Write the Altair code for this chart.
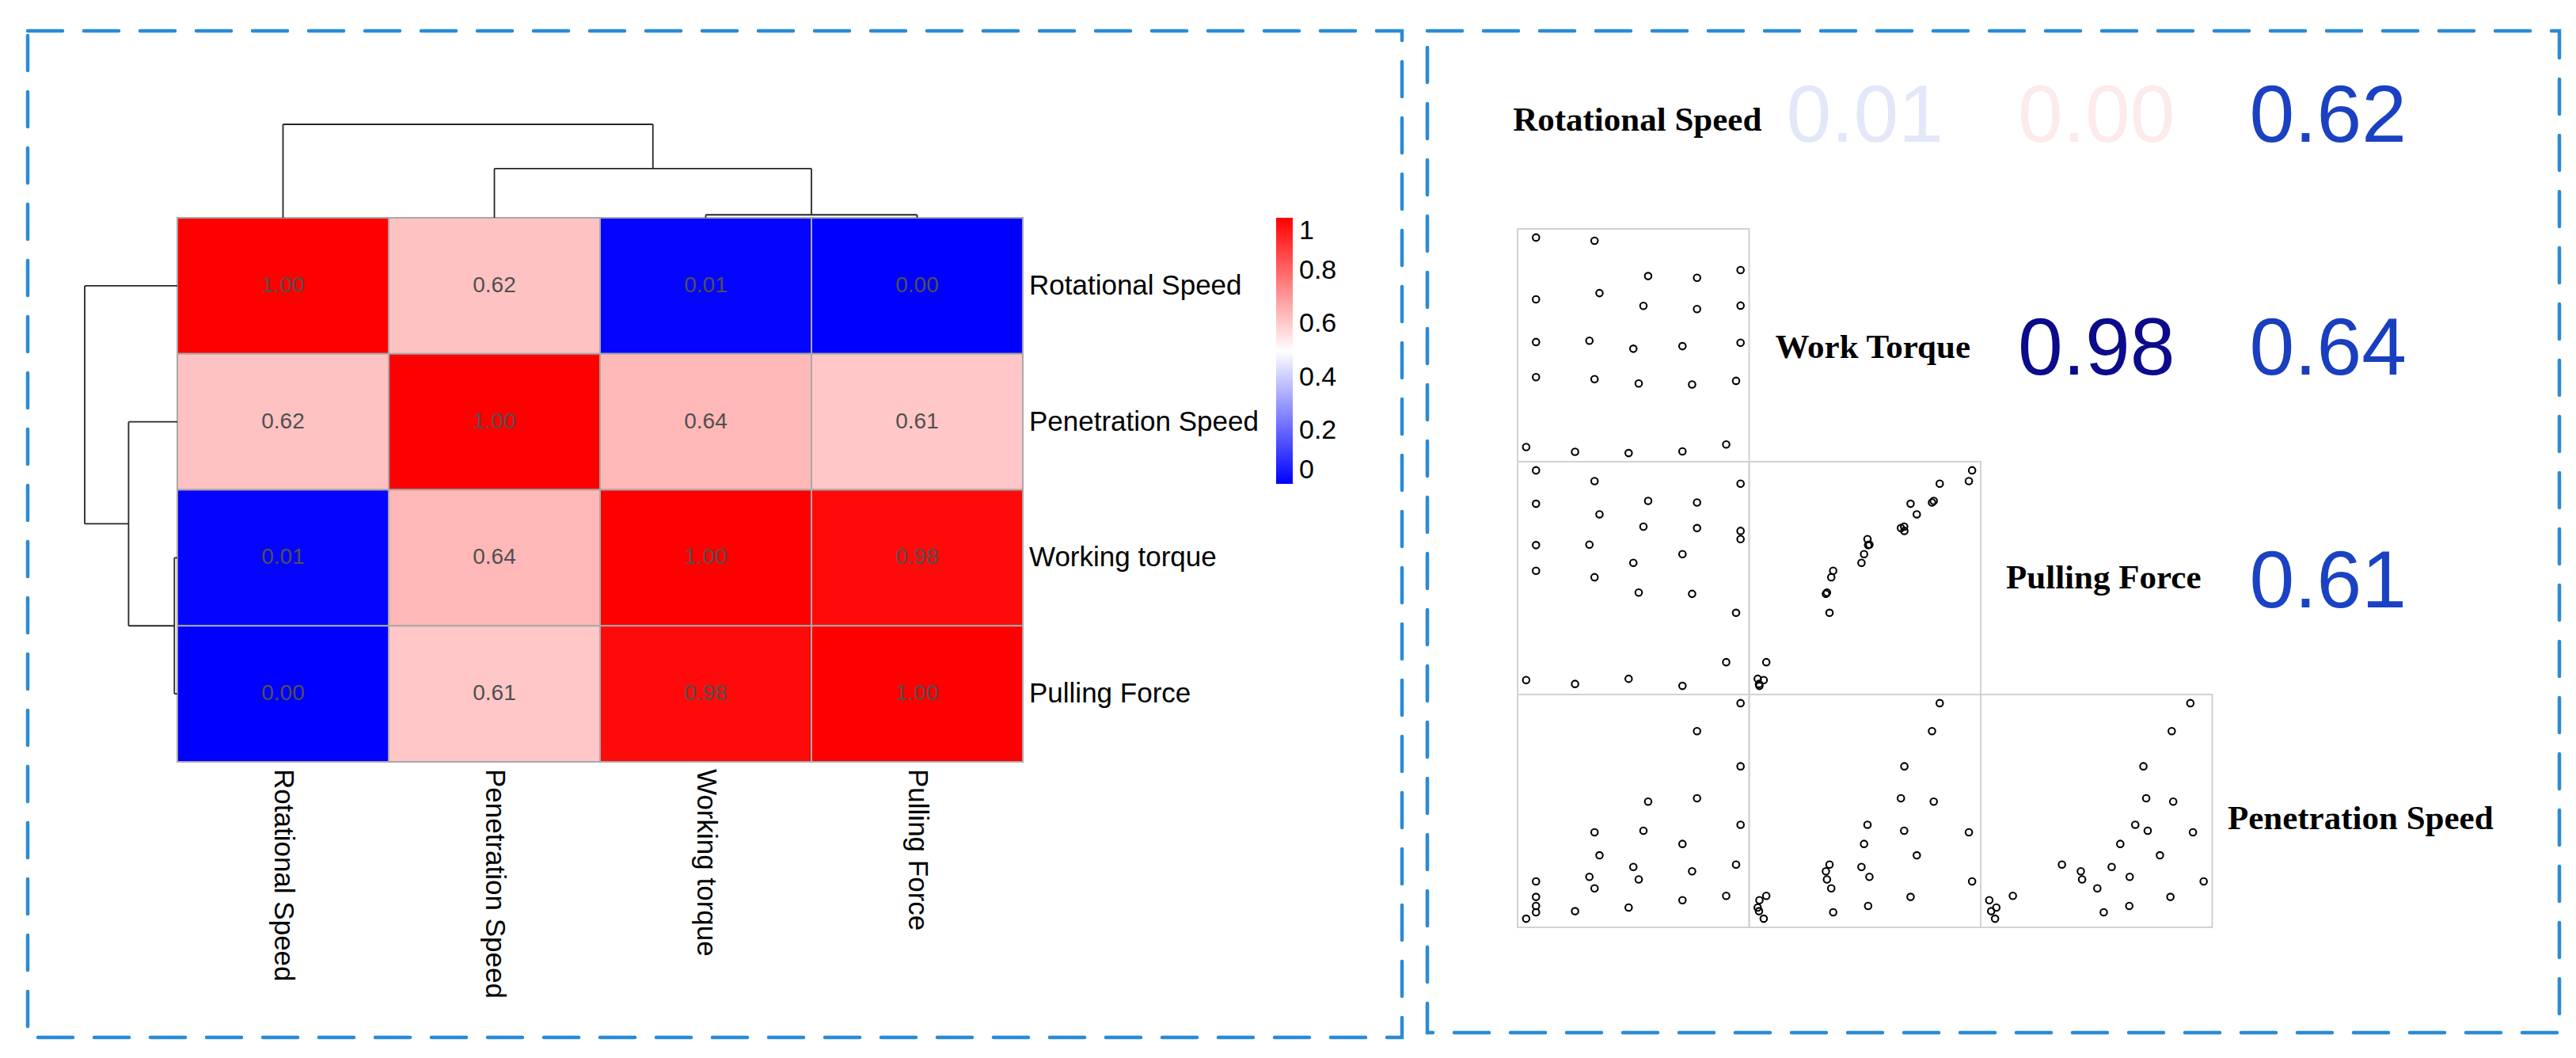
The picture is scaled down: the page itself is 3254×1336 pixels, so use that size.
import altair as alt
import pandas as pd

# ---------------- data ----------------
heat_vars = ["Rotational Speed", "Penetration Speed", "Working torque", "Pulling Force"]
heat_rs = [1.00, 0.62, 0.01, 0.00]
heat_ps = [0.62, 1.00, 0.64, 0.61]
heat_wt = [0.01, 0.64, 1.00, 0.98]
heat_pf = [0.00, 0.61, 0.98, 1.00]
heat_rows = [heat_rs, heat_ps, heat_wt, heat_pf]

# dendrogram merges (left node, right node, height); leaves 0..3, new nodes 4, 5, 6
dendro_merges = [(2, 3, 0.06), (1, 4, 1.0), (0, 5, 1.9)]
legend_ticks = [0, 0.2, 0.4, 0.6, 0.8, 1]

pair_vars = ["Rotational Speed", "Work Torque", "Pulling Force", "Penetration Speed"]
pair_keys = ["rs", "wt", "pf", "ps"]
rotational_speed = [4.6, 31.9, 56.9, 79.7, 100, 4.6, 34.2, 54.7, 79.7, 100, 4.6, 29.5, 50.0,
                    72.9, 100, 4.6, 31.9, 52.5, 77.4, 97.9, 0.0, 22.8, 47.8, 72.9, 93.3]
work_torque = [100, 98.5, 82.1, 81.3, 84.9, 71.3, 74.2, 68.3, 66.8, 68.4, 51.5, 52.1, 48.4,
               49.6, 51.2, 35.2, 34.3, 32.3, 31.8, 33.5, 2.8, 0.6, 0.0, 0.8, 4.0]
pulling_force = [100, 95.0, 85.8, 85.1, 93.8, 84.5, 79.6, 73.9, 73.2, 71.9, 65.3, 65.5, 57.1,
                 61.1, 68.1, 53.4, 50.4, 43.3, 42.7, 33.9, 2.7, 0.9, 3.3, 0.0, 11.0]
penetration_speed = [17.3, 40.1, 54.3, 87.0, 100, 10.1, 29.4, 40.8, 55.9, 70.7, 5.9, 19.4, 24.0,
                     34.7, 43.6, 3.0, 14.1, 18.2, 22.0, 25.1, 0.0, 3.5, 5.2, 8.6, 10.6]
# upper-triangle correlations: (row index, col index) in pair_vars
corr_pairs = [(0, 1), (0, 2), (0, 3), (1, 2), (1, 3), (2, 3)]
corr_values = [0.01, 0.00, 0.62, 0.98, 0.64, 0.61]

# ---------------- layout / style ----------------
W, H = 3238, 1320
FONT = "Liberation Sans"
GRID_X = [216, 1284]
GRID_Y = [267, 954]
DEND_TOP_Y = [267, 149]
DEND_LEFT_X = [216, 99]
PAIR_X0, PAIR_CW = 1909, 292.5
PAIR_Y0, PAIR_CH = -13, 294
DASH_BLUE = "#2a8bd6"
LINE_COL = "#262626"
label_nudges = {  # dx, dy for diagonal labels (alphabetic baseline)
    "Rotational Speed": (5, 23),
    "Work Torque": (10, 16),
    "Pulling Force": (9, 13),
    "Penetration Speed": (41, 23),
}

# ---------------- tables ----------------
heat_df = pd.DataFrame([
    {"row": heat_vars[i], "col": heat_vars[j], "value": heat_rows[i][j]}
    for i in range(4) for j in range(4)
])
names_df = pd.DataFrame({"name": heat_vars})


def dendro_segments(merges, n_leaves):
    pos = {i: float(i) for i in range(n_leaves)}
    hgt = {i: 0.0 for i in range(n_leaves)}
    segs = []
    nid = n_leaves
    for a, b, h in merges:
        segs.append(dict(p=pos[a], p2=pos[a], h=hgt[a], h2=h))
        segs.append(dict(p=pos[b], p2=pos[b], h=hgt[b], h2=h))
        segs.append(dict(p=pos[a], p2=pos[b], h=h, h2=h))
        pos[nid] = (pos[a] + pos[b]) / 2
        hgt[nid] = h
        nid += 1
    return pd.DataFrame(segs)


dend_df = dendro_segments(dendro_merges, 4)
hmax = max(m[2] for m in dendro_merges)

samples = pd.DataFrame({"rs": rotational_speed, "wt": work_torque,
                        "pf": pulling_force, "ps": penetration_speed})
lower_df = pd.DataFrame([{"r": pair_vars[i], "c": pair_vars[j]}
                         for i in range(4) for j in range(4) if i > j])
corr_df = pd.DataFrame([{"r": pair_vars[i], "c": pair_vars[j], "v": v, "label": f"{v:.2f}"}
                        for (i, j), v in zip(corr_pairs, corr_values)])

# ---------------- scales ----------------
heat_x = alt.Scale(domain=heat_vars, range=GRID_X, paddingInner=0, paddingOuter=0)
heat_y = alt.Scale(domain=heat_vars, range=GRID_Y, paddingInner=0, paddingOuter=0)
pair_x = alt.Scale(domain=pair_vars, range=[PAIR_X0, PAIR_X0 + 4 * PAIR_CW], paddingInner=0, paddingOuter=0)
pair_y = alt.Scale(domain=pair_vars, range=[PAIR_Y0, PAIR_Y0 + 4 * PAIR_CH], paddingInner=0, paddingOuter=0)

layers = []

# heatmap cells
layers.append(alt.Chart(heat_df).mark_rect(stroke="#a8a8a8", strokeWidth=2).encode(
    x=alt.X("col:N", scale=heat_x, axis=None, sort=heat_vars),
    y=alt.Y("row:N", scale=heat_y, axis=None, sort=heat_vars),
    color=alt.Color("value:Q",
                    scale=alt.Scale(domain=[0, 0.5, 1], range=["#0000ff", "#ffffff", "#ff0000"],
                                    interpolate="rgb"),
                    legend=alt.Legend(orient="none", legendX=1604, legendY=267, direction="vertical",
                                      gradientLength=336, gradientThickness=21, title=None,
                                      values=legend_ticks, format="~g", labelFontSize=34,
                                      labelFont=FONT, labelColor="black", labelOffset=8,
                                      labelBaseline="middle", gradientStrokeWidth=0,
                                      labelOverlap=False)),
))
# heatmap numbers
layers.append(alt.Chart(heat_df).mark_text(font=FONT, fontSize=28, color="#505050").encode(
    x=alt.X("col:N", scale=heat_x, axis=None, sort=heat_vars),
    y=alt.Y("row:N", scale=heat_y, axis=None, sort=heat_vars),
    text=alt.Text("value:Q", format=".2f"),
))
# row labels
layers.append(alt.Chart(names_df).mark_text(font=FONT, fontSize=35, color="black", align="left",
                                            baseline="middle").encode(
    x=alt.value(1292),
    y=alt.Y("name:N", scale=heat_y, axis=None, sort=heat_vars),
    text="name:N",
))
# column labels
layers.append(alt.Chart(names_df).mark_text(font=FONT, fontSize=35, color="black", align="left",
                                            baseline="middle", angle=90).encode(
    x=alt.X("name:N", scale=heat_x, axis=None, sort=heat_vars),
    y=alt.value(963),
    text="name:N",
))
# top dendrogram
layers.append(alt.Chart(dend_df).mark_rule(color=LINE_COL, strokeWidth=1.8).encode(
    x=alt.X("p:Q", scale=alt.Scale(domain=[-0.5, 3.5], range=GRID_X, nice=False, zero=False), axis=None),
    x2="p2:Q",
    y=alt.Y("h:Q", scale=alt.Scale(domain=[0, hmax], range=DEND_TOP_Y, nice=False), axis=None),
    y2="h2:Q",
))
# left dendrogram
layers.append(alt.Chart(dend_df).mark_rule(color=LINE_COL, strokeWidth=1.8).encode(
    y=alt.Y("p:Q", scale=alt.Scale(domain=[-0.5, 3.5], range=GRID_Y, nice=False, zero=False), axis=None),
    y2="p2:Q",
    x=alt.X("h:Q", scale=alt.Scale(domain=[0, hmax], range=DEND_LEFT_X, nice=False), axis=None),
    x2="h2:Q",
))

# pairs: lower panel frames
layers.append(alt.Chart(lower_df).mark_rect(fill="white", fillOpacity=0, stroke="#d2d2d2",
                                            strokeWidth=2).encode(
    x=alt.X("c:N", scale=pair_x, axis=None, sort=pair_vars),
    y=alt.Y("r:N", scale=pair_y, axis=None, sort=pair_vars),
))


def padded(vals):
    lo, hi = min(vals), max(vals)
    pad = 0.04 * (hi - lo)
    return [lo - pad, hi + pad]


for i in range(4):
    for j in range(i):
        xk, yk = pair_keys[j], pair_keys[i]
        layers.append(alt.Chart(samples).mark_point(shape="circle", filled=False, color="black",
                                                    size=72, strokeWidth=2.1, opacity=1).encode(
            x=alt.X(f"{xk}:Q", axis=None,
                    scale=alt.Scale(domain=padded(samples[xk]), nice=False, zero=False,
                                    range=[PAIR_X0 + j * PAIR_CW, PAIR_X0 + (j + 1) * PAIR_CW])),
            y=alt.Y(f"{yk}:Q", axis=None,
                    scale=alt.Scale(domain=padded(samples[yk]), nice=False, zero=False,
                                    range=[PAIR_Y0 + (i + 1) * PAIR_CH, PAIR_Y0 + i * PAIR_CH])),
        ))

# diagonal labels
for name in pair_vars:
    dx, dy = label_nudges[name]
    layers.append(alt.Chart(pd.DataFrame({"name": [name]})).mark_text(
        font="Liberation Serif", fontWeight="bold", fontSize=43, color="black",
        align="center", baseline="alphabetic", dx=dx, dy=dy).encode(
        x=alt.X("name:N", scale=pair_x, axis=None, sort=pair_vars),
        y=alt.Y("name:N", scale=pair_y, axis=None, sort=pair_vars),
        text="name:N",
    ))

# upper correlation numbers
layers.append(alt.Chart(corr_df).mark_text(font=FONT, fontSize=102, align="center",
                                           baseline="alphabetic", dy=37).encode(
    x=alt.X("c:N", scale=pair_x, axis=None, sort=pair_vars),
    y=alt.Y("r:N", scale=pair_y, axis=None, sort=pair_vars),
    text="label:N",
    color=alt.Color("v:Q", legend=None,
                    scale=alt.Scale(domain=[0.0, 0.01, 0.61, 0.98],
                                    range=["#fdeaea", "#e2e8f8", "#1a42c4", "#0b0b8b"],
                                    interpolate="rgb")),
))

# dashed frames
one = pd.DataFrame({"k": [0]})
for (x1, x2, y1, y2) in [(27, 1763, 31, 1302), (1795, 3225, 31, 1296)]:
    layers.append(alt.Chart(one).mark_rect(fill="white", fillOpacity=0, stroke=DASH_BLUE,
                                           strokeWidth=4.5, strokeDash=[44, 27],
                                           strokeCap="round").encode(
        x=alt.value(x1), x2=alt.value(x2), y=alt.value(y1), y2=alt.value(y2)))

chart = alt.layer(*layers).resolve_scale(
    x="independent", y="independent", color="independent"
).properties(
    width=W, height=H, padding=0, autosize=alt.AutoSizeParams(type="none"),
    background="white",
).configure_view(stroke=None)

chart.save("out.html", embed_options={"renderer": "svg", "actions": False})
